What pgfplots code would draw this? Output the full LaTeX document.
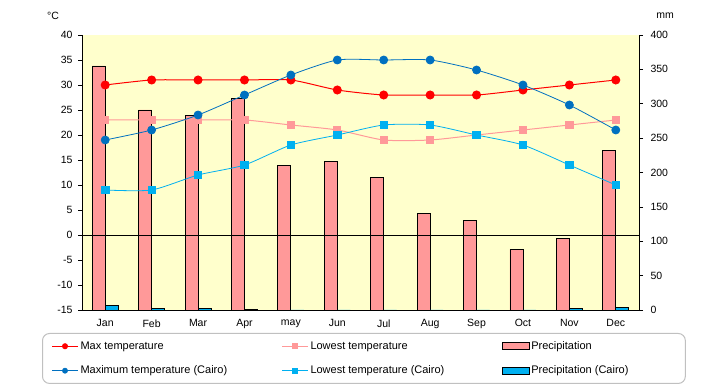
\documentclass[border=0pt]{standalone}
\usepackage{fontspec}
\setmainfont{Liberation Sans}
\usepackage{pgfplots}
\pgfplotsset{compat=1.18}
\definecolor{bgyellow}{HTML}{FFFFCC}
\definecolor{pinkc}{HTML}{FF9999}
\definecolor{cairoblue}{HTML}{0070C0}
\definecolor{cairolight}{HTML}{00B0F0}
\definecolor{legendgray}{HTML}{C0C0C0}
\begin{document}
\begin{tikzpicture}[font=\fontsize{10.5}{12}\selectfont]
\useasboundingbox (-82pt,-75pt) rectangle (638pt,310pt);
\pgfplotsset{
  base/.style={width=557pt,height=275pt,scale only axis,xmin=-0.5,xmax=11.5,
    /pgf/number format/assume math mode=true,
    tick align=outside, major tick length=4pt,
    tick style={black,line width=0.6pt},
    axis line style={black,line width=0.8pt},
    tick label style={font=\fontsize{10.5}{12}\selectfont},
    clip=false},
  linelegend/.style={legend image code/.code={\draw[sharp corners,mark repeat=2,mark phase=2,##1] plot coordinates {(0pt,0pt) (13pt,0pt) (26pt,0pt)};}},
  barlegend/.style={legend image code/.code={\draw[sharp corners,##1] (0pt,-3.5pt) rectangle (27pt,3.5pt);}},
}
% precipitation axis (right)
\begin{axis}[base,
  axis y line*=right, axis x line*=bottom,
  ymin=0, ymax=400, ytick={0,50,...,400},
  yticklabel style={xshift=4pt},
  xtick={0,...,11},
  xticklabels={Jan,Feb,Mar,Apr,may,Jun,Jul,Aug,Sep,Oct,Nov,Dec},
  xticklabel style={yshift=-2pt},
  x tick style={draw=none},
  axis background/.style={fill=bgyellow},
  legend columns=3,
  legend cell align=left,
  legend style={at={(-0.0718,-0.0836)},anchor=north west,
    draw=legendgray, line width=1pt, rounded corners=7pt,
    inner xsep=9pt, inner ysep=6pt, row sep=11pt, font=\fontsize{11}{13}\selectfont},
]
\addlegendimage{linelegend, red, line width=1pt, mark=*, mark size=2.5pt}
\addlegendentry{\makebox[199pt][l]{Max temperature}}
\addlegendimage{linelegend, pinkc, line width=1pt, mark=square*, mark size=2.5pt}
\addlegendentry{\makebox[189pt][l]{Lowest temperature}}
\addplot[barlegend, ybar, bar width=13pt, bar shift=-6.5pt, fill=pinkc, draw=black, line width=0.8pt]
  coordinates {(0,355) (1,291) (2,283) (3,308) (4,210) (5,216) (6,193) (7,141) (8,130) (9,88) (10,104) (11,232)};
\addlegendentry{\makebox[143pt][l]{Precipitation}}
\addlegendimage{linelegend, cairoblue, line width=0.8pt, mark=*, mark size=2.5pt}
\addlegendentry{\makebox[199pt][l]{Maximum temperature (Cairo)}}
\addlegendimage{linelegend, cairolight, line width=0.8pt, mark=square*, mark size=2.5pt}
\addlegendentry{\makebox[189pt][l]{Lowest temperature (Cairo)}}
\addplot[barlegend, ybar, bar width=13pt, bar shift=6.5pt, fill=cairolight, draw=black, line width=0.8pt]
  coordinates {(0,7) (1,2.5) (2,2.5) (3,1) (4,0) (5,0) (6,0) (7,0) (8,0) (9,0) (10,2.5) (11,4)};
\addlegendentry{\makebox[143pt][l]{Precipitation (Cairo)}}
\end{axis}
% temperature axis (left)
\begin{axis}[base,
  axis y line*=left, axis x line*=bottom,
  ymin=-15, ymax=40, ytick={-15,-10,...,40},
  yticklabel style={xshift=-2pt},
  xtick=\empty,
]
\draw[black, line width=0.8pt] (axis cs:-0.5,0) -- (axis cs:11.5,0);
\addplot[red, line width=1pt, smooth, tension=0.4, mark=*, mark size=4pt, mark options={solid}]
  coordinates {(0,30) (1,31) (2,31) (3,31) (4,31) (5,29) (6,28) (7,28) (8,28) (9,29) (10,30) (11,31)};
\addplot[pinkc, line width=1pt, smooth, tension=0.4, mark=square*, mark size=3.7pt]
  coordinates {(0,23) (1,23) (2,23) (3,23) (4,22) (5,21) (6,19) (7,19) (8,20) (9,21) (10,22) (11,23)};
\addplot[cairoblue, line width=0.8pt, smooth, tension=0.4, mark=*, mark size=4pt]
  coordinates {(0,19) (1,21) (2,24) (3,28) (4,32) (5,35) (6,35) (7,35) (8,33) (9,30) (10,26) (11,21)};
\addplot[cairolight, line width=0.8pt, smooth, tension=0.4, mark=square*, mark size=3.7pt]
  coordinates {(0,9) (1,9) (2,12) (3,14) (4,18) (5,20) (6,22) (7,22) (8,20) (9,18) (10,14) (11,10)};
\end{axis}
\node at (-29pt,294pt) {°C};
\node at (583pt,294pt) {mm};
\end{tikzpicture}
\end{document}
